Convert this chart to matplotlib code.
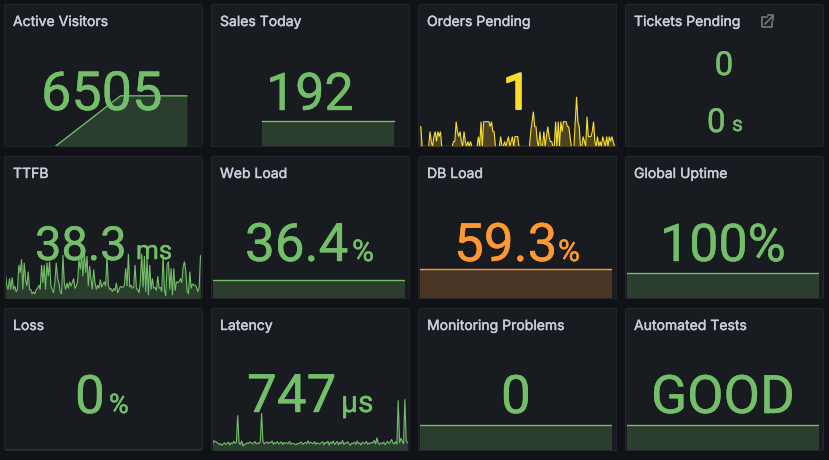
"""
Grafana style stat panels, 3 rows of 4
"""
import numpy as np
import matplotlib
matplotlib.use('Agg')
import matplotlib.pyplot as plt
import matplotlib.patheffects as pe
from matplotlib.patches import FancyBboxPatch

plt.rcParams['font.family'] = ['Inter', 'DejaVu Sans']

W, H = 829, 460

# Data
titles = ['Active Visitors', 'Sales Today', 'Orders Pending', 'Tickets Pending',
          'TTFB', 'Web Load', 'DB Load', 'Global Uptime',
          'Loss', 'Latency', 'Monitoring Problems', 'Automated Tests']
value_texts = ['6505', '192', '1', None,
               '38.3', '36.4', '59.3', '100%',
               '0', '747', '0', 'GOOD']
unit_texts = [None, None, None, None,
              'ms', '%', '%', None,
              '%', 'µs', None, None]

active_time = [25.5, 59, 93]
active_visitors = [0, 6505, 6505]
sales_time = [25.5, 59, 93]
sales_today = [192, 192, 192]
flat_time = [0, 100]
web_load = [36.4, 36.4]
db_load = [59.3, 59.3]
global_uptime = [100, 100]
loss = [0, 0]
monitoring_problems = [0, 0]
automated_tests = [1, 1]

orders_pending = [4, 4, 0, 0, 0, 0, 0, 0, 3, 1, 0, 2, 3, 1, 3, 2, 3, 0, 0, 0,
                  0, 0, 0, 0, 0, 0, 1, 1, 5, 3, 2, 3, 1, 0, 3, 1, 0, 1, 0, 1,
                  0, 0, 0, 0, 0, 2, 0, 5, 0, 5, 5, 5, 5, 5, 4, 5, 3, 3, 0, 0,
                  0, 0, 2, 0, 0, 1, 0, 1, 2, 0, 1, 2, 0, 2, 2, 2, 0, 0, 0, 0,
                  0, 0, 0, 0, 0, 3, 5, 7, 4, 4, 1, 0, 3, 0, 0, 3, 0, 2, 4, 2,
                  1, 1, 0, 0, 5, 0, 5, 0, 5, 3, 5, 5, 5, 4, 4, 2, 0, 0, 0, 5,
                  10, 5, 4, 0, 0, 2, 1, 0, 6, 2, 2, 2, 3, 5, 1, 0, 2, 0, 1, 0,
                  2, 1, 0, 2, 0, 2, 1, 2, 1, 0]

ttfb = [21, 11, 8, 18, 8, 19, 8, 11, 6, 8, 30, 23, 35, 8, 32, 17, 11, 24, 8, 8,
        4, 6, 4, 8, 9, 12, 8, 30, 14, 30, 8, 32, 20, 33, 11, 8, 5, 15, 32, 18,
        14, 6, 4, 39, 14, 8, 14, 9, 15, 11, 14, 18, 9, 11, 15, 35, 26, 39, 20, 42,
        23, 38, 11, 29, 17, 8, 26, 14, 8, 12, 9, 17, 10, 13,
        15, 11, 38, 12, 8, 9, 6, 9, 7, 14, 5, 8, 11, 10, 10, 12, 27, 11, 40, 10,
        12, 9, 10, 30, 9, 8, 5, 16, 40, 10, 38, 6, 36, 3, 30, 8, 18, 9, 10, 7,
        20, 9, 10, 6, 39, 8, 2, 30, 33, 8, 27, 3, 27, 7, 15, 14, 15, 18, 14, 28,
        33, 24, 7, 4, 24, 9, 13, 12, 12, 10, 6, 10, 38.3]

latency = [520, 930, 840, 780, 700, 560, 650, 470, 600, 740, 560, 640, 800, 500, 720, 610, 880, 660, 790, 3300,
           700, 540, 910, 400, 620, 570, 720, 650, 800, 740, 620, 690, 850, 600, 720, 660, 780, 3500, 880, 620,
           700, 820, 640, 780, 730, 900, 560, 760, 640, 850, 600, 700, 820, 540, 760, 660, 720, 620, 860, 580,
           700, 640, 600, 540, 660, 620, 720, 800, 560, 680, 760, 620, 920, 650, 780, 700, 620, 840, 560, 720,
           660, 600, 740, 820, 520, 760, 680, 880, 480, 800, 640, 920, 560, 700, 860, 520, 780, 620, 960, 540,
           720, 660, 830, 600, 480, 700, 640, 780, 560, 900, 620, 720, 500, 800, 680, 640, 860, 560, 720, 620,
           780, 700, 960, 580, 1200, 660, 560, 720, 620, 800, 520, 700, 860, 640, 760, 1050, 720, 600, 840, 560,
           4700, 700, 1150, 880, 620, 4800, 900, 747]

series_x = [active_time, sales_time, np.arange(len(orders_pending)), None,
            np.arange(len(ttfb)), flat_time, flat_time, flat_time,
            flat_time, np.arange(len(latency)), flat_time, flat_time]
series_y = [active_visitors, sales_today, orders_pending, None,
            ttfb, web_load, db_load, global_uptime,
            loss, latency, monitoring_problems, automated_tests]
y_limits = [(0, 18240), (0, 1056), (0, 28.6), None,
            (0, 127), (0, 274), (0, 283), (0, 556),
            (-1, 142), (0, 13300), (-1, 4.5), (0, 5.5)]

# Layout, pixels from the top left
col_left = [4, 211, 418, 625]
row_top = [4, 156, 308]
panel_w, panel_h = 199, 143
title_base = [26, 178, 330]
# left edge, baseline, font size in px
value_pos = [(41, 110, 54), (266, 110, 52), (503, 109, 50), None,
             (35, 260, 47), (245, 261, 53), (454, 261, 53), (660, 261, 52),
             (75, 413, 53), (247, 412, 53), (501, 413, 53), (651, 413, 53)]
unit_pos = [None, None, None, None,
            (136, 259, 26), (352, 261, 30), (558, 261, 30), None,
            (109, 413, 27), (341, 412, 30), None, None]
value_stroke = [0.3, 0.3, 1.5, 0,
                0.3, 0.3, 0.3, 0.3,
                0.3, 0.3, 0.3, 0.3]

GREEN, YELLOW, ORANGE = '#73bf69', '#fade2a', '#ff9830'
colors = [GREEN, GREEN, YELLOW, GREEN,
          GREEN, GREEN, ORANGE, GREEN,
          GREEN, GREEN, GREEN, GREEN]
fills = {GREEN: '#2b3d2e', YELLOW: '#4b4322', ORANGE: '#4a3524'}


def px(size):
    return size * 72 / 100


fig = plt.figure(figsize=((W + 0.01) / 100, (H + 0.01) / 100), dpi=100, facecolor='#111217')

bg = fig.add_axes([0, 0, 1, 1], zorder=0)
bg.set_xlim(0, W)
bg.set_ylim(H, 0)
bg.axis('off')

over = fig.add_axes([0, 0, 1, 1], zorder=5)
over.set_xlim(0, W)
over.set_ylim(H, 0)
over.axis('off')

for i, title in enumerate(titles):
    left = col_left[i % 4]
    top = row_top[i // 4]
    bg.add_patch(FancyBboxPatch((left + 0.5, top + 0.5), panel_w - 1, panel_h - 1,
                                boxstyle='round,pad=0,rounding_size=2',
                                facecolor='#181b1f', edgecolor='#23262b', linewidth=0.8))
    t = over.text(left + 9, title_base[i // 4], title, color='#ccccdc',
                  fontsize=px(14), va='baseline', ha='left')
    t.set_path_effects([pe.withStroke(linewidth=0.3, foreground='#ccccdc')])

    if series_y[i] is not None:
        # sparkline runs a bit short of the panel edges
        x0, x1 = left + 1.5, left + panel_w - 2.5
        if i in (5, 6, 7, 10, 11):
            x1 = left + panel_w - 5
        ax = fig.add_axes([x0 / W, 1 - (top + panel_h - 0.5) / H,
                           (x1 - x0) / W, (panel_h - 1) / H], zorder=2)
        ax.patch.set_alpha(0)
        ax.axis('off')
        lw = 0.8 if len(series_y[i]) > 3 else 1.0
        ax.plot(series_x[i], series_y[i], color=colors[i], linewidth=lw, solid_joinstyle='miter')
        ax.fill_between(series_x[i], series_y[i], y_limits[i][0], color=fills[colors[i]], linewidth=0)
        ax.lines[0].set_zorder(3)
        if len(series_y[i]) > 3:
            ax.set_xlim(0, len(series_y[i]) - 1)
        else:
            ax.set_xlim(0, 100)
        ax.set_ylim(*y_limits[i])

    if value_texts[i] is not None:
        vx, vy, vs = value_pos[i]
        t = over.text(vx, vy, value_texts[i], color=colors[i], fontsize=px(vs),
                      family='Roboto', va='baseline', ha='left')
        t.set_path_effects([pe.withStroke(linewidth=value_stroke[i], foreground=colors[i])])
    if unit_texts[i] is not None:
        ux, uy, us = unit_pos[i]
        t = over.text(ux, uy, unit_texts[i], color=colors[i], fontsize=px(us),
                      family='Roboto', va='baseline', ha='left')
        t.set_path_effects([pe.withStroke(linewidth=0.3, foreground=colors[i])])

# Tickets Pending has two stacked values
for x, y, s, size, ha in [(724, 75, '0', 33, 'center'), (707, 132, '0', 33, 'left'), (732, 131, 's', 21, 'left')]:
    t = over.text(x, y, s, color=GREEN, fontsize=px(size), family='Roboto', va='baseline', ha=ha)
    t.set_path_effects([pe.withStroke(linewidth=0.3, foreground=GREEN)])

# external link icon next to the title
icon = '#7f8087'
over.plot([767, 762, 762, 772, 772], [17, 17, 27, 27, 22], color=icon, linewidth=1.1)
over.plot([765, 773], [24, 16], color=icon, linewidth=1.1)
over.plot([768, 773, 773], [15.5, 15.5, 20.5], color=icon, linewidth=1.1)

fig.savefig('out.png', dpi=100, facecolor=fig.get_facecolor())
